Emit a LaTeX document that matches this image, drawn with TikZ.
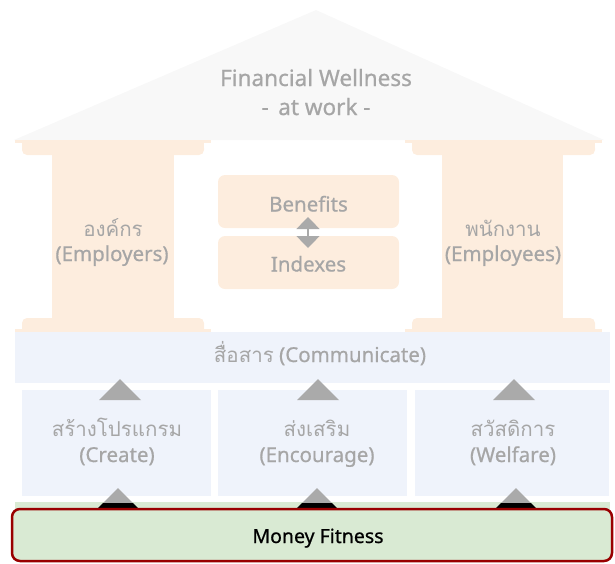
\documentclass[tikz,border=0pt]{standalone}
\usepackage{fontspec}
\setmainfont{Noto Sans}[FakeBold=0.7]
\newfontfamily\thaiF[Script=Thai,Scale=1.0]{Loma}
\newcommand{\thai}{\thaiF\mdseries}
\usetikzlibrary{arrows.meta}
\definecolor{roofc}{RGB}{248,248,248}
\definecolor{peach}{RGB}{253,237,222}
\definecolor{lblue}{RGB}{239,243,251}
\definecolor{txtgray}{RGB}{166,166,166}
\definecolor{tric}{RGB}{170,170,170}
\definecolor{lgreen}{RGB}{217,234,211}
\definecolor{dred}{RGB}{153,0,0}
\begin{document}
\begin{tikzpicture}[x=1pt,y=-1pt,
  every node/.style={inner sep=0pt, outer sep=0pt},
  lbl/.style={text=txtgray, font=\fontsize{20.5}{24}\selectfont\bfseries, anchor=base},
  bigl/.style={text=txtgray, font=\fontsize{22.5}{26}\selectfont\bfseries, anchor=base},
  boxc/.style={fill=peach, rounded corners=7pt, minimum width=181pt, minimum height=53pt},
  bluebox/.style={fill=lblue, minimum height=106pt},
  uptri/.style={fill=tric},
]
\useasboundingbox (0,0) rectangle (615,563);
% roof
\fill[roofc] (316,10) -- (604,140) -- (14,140) -- cycle;
\node[bigl] (roof1) at (316,86) {Financial Wellness};
\node[bigl] (roof2) at (316,115) {-\, at work -};
% left column
\fill[peach] (15,140) rectangle (211,143);
\fill[peach] (22,140) rectangle (204,150);
\fill[peach, rounded corners=5pt] (22,143) rectangle (204,155);
\fill[peach] (52,150) rectangle (174,322);
\fill[peach, rounded corners=5pt] (22,318) rectangle (204,334);
\fill[peach] (15,329) rectangle (211,334);
% right column
\fill[peach] (405,140) rectangle (602,143);
\fill[peach] (412,140) rectangle (595,150);
\fill[peach, rounded corners=5pt] (412,143) rectangle (595,155);
\fill[peach] (442,150) rectangle (563,322);
\fill[peach, rounded corners=5pt] (412,318) rectangle (595,334);
\fill[peach] (405,329) rectangle (602,334);
\node[lbl] (er1) at (113,236) {\thai องค์กร};
\node[lbl] (er2) at (112,261) {(Employers)};
\node[lbl] (ee1) at (503,236) {\thai พนักงาน};
\node[lbl] (ee2) at (503,261) {(Employees)};
% center boxes
\node[boxc] (ben) at (308.5,201.5) {};
\node[boxc] (idx) at (308.5,262.5) {};
\node[lbl] (bent) at (ben.center) [yshift=-10pt] {Benefits};
\node[lbl] (idxt) at (idx.center) [yshift=-9pt] {Indexes};
\coordinate (a1) at (308,217);
\coordinate (a2) at (308,248);
\draw[tric, line width=1.2pt, {Triangle[width=23pt,length=12pt]}-{Triangle[width=23pt,length=12pt]}] (a1) -- (a2);
% communicate
\node[fill=lblue, minimum width=595pt, minimum height=51pt] (comm) at (312.5,357.5) {};
\node[lbl] (commt) at (320,362) {{\thai สื่อสาร} (Communicate)};
% three boxes
\node[bluebox, minimum width=189pt] (cre) at (116.5,443) {};
\node[bluebox, minimum width=189pt] (enc) at (312.5,443) {};
\node[bluebox, minimum width=194pt] (wel) at (512,443) {};
\foreach \x in {120,318,514} {
  \fill[uptri] (\x-21,400) -- (\x,379) -- (\x+21,400) -- cycle;
}
\node[lbl] (cre1) at (117,436) {\thai สร้างโปรแกรม};
\node[lbl] (cre2) at (117,462) {(Create)};
\node[lbl] (enc1) at (317,436) {\thai ส่งเสริม};
\node[lbl] (enc2) at (317,462) {(Encourage)};
\node[lbl] (wel1) at (513,436) {\thai สวัสดิการ};
\node[lbl] (wel2) at (513,462) {(Welfare)};
% bottom
\fill[lgreen] (15,502) rectangle (610,512);
\foreach \x in {118,317,516} {
  \fill[uptri] (\x-20,508) -- (\x,488) -- (\x+20,508) -- cycle;
  \fill[black] (\x-15,503) -- (\x+15,503) -- (\x+20,508) -- (\x-20,508) -- cycle;
}
\node[fill=lgreen, draw=dred, line width=2.5pt, rounded corners=8pt, minimum width=600pt, minimum height=52pt] (mf) at (312,535) {};
\node[anchor=base, font=\fontsize{19.5}{23}\selectfont\bfseries] (mft) at (318,543) {Money Fitness};
\end{tikzpicture}
\end{document}
